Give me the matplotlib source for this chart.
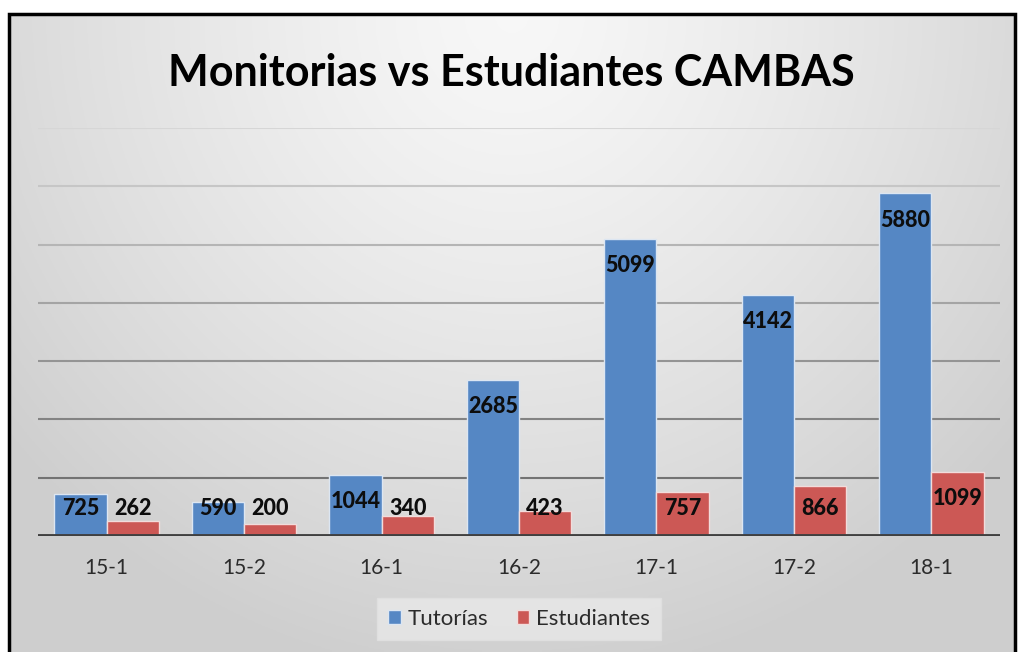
import numpy as np
import matplotlib
matplotlib.use('Agg')
import matplotlib.pyplot as plt
from matplotlib.patches import Rectangle, Patch

# datos
periodos = ['15-1', '15-2', '16-1', '16-2', '17-1', '17-2', '18-1']
tutorias = [725, 590, 1044, 2685, 5099, 4142, 5880]
estudiantes = [262, 200, 340, 423, 757, 866, 1099]

AZUL = '#5587c4'
ROJO = '#cc5855'
FUENTE = ['Lato', 'DejaVu Sans']

W, H = 1018, 652
fig = plt.figure(figsize=(W / 100, H / 100), dpi=100)
fig.patch.set_facecolor('white')

# fondo con degradado dentro del marco
x0, y0, x1, y1 = 9, 0, 1015, 638   # pixeles desde abajo
bg = fig.add_axes([x0 / W, y0 / H, (x1 - x0) / W, (y1 - y0) / H], zorder=0)
yy, xx = np.mgrid[0:1:200j, 0:1:400j]
d = np.sqrt(((xx - 0.5) / 0.65) ** 2 + (yy / 1.05) ** 2)
val = 0.97 - 0.16 * np.clip(d, 0, 1) ** 1.3
bg.imshow(np.dstack([val, val, val]), aspect='auto', extent=[0, 1, 0, 1])
bg.set_axis_off()
fig.patches.append(Rectangle((x0 / W, -0.05), (x1 - x0) / W, (y1 / H) + 0.05,
                             transform=fig.transFigure, fill=False,
                             edgecolor='black', lw=2.5, zorder=5))

# area del grafico
ax = fig.add_axes([38 / W, 116 / H, 962 / W, 408 / H], zorder=1)
ax.patch.set_alpha(0)
x = np.arange(len(periodos))
ancho = 0.38

ax.set_xlim(-0.5, len(periodos) - 0.5)
ax.set_ylim(0, 7000)

# lineas de cuadricula, mas oscuras hacia abajo
niveles = np.arange(1000, 7001, 1000)
grises = np.linspace(0.45, 0.84, len(niveles))
for nivel, g in zip(niveles, grises):
    ax.axhline(nivel, color=(g, g, g), lw=1.5, zorder=1)

ax.bar(x - ancho / 2, tutorias, ancho, color=AZUL, edgecolor='#dce6f2', lw=1, zorder=2)
ax.bar(x + ancho / 2, estudiantes, ancho, color=ROJO, edgecolor='#f2dcdb', lw=1, zorder=2)
ax.axhline(0, color='#404040', lw=3.5, zorder=3)

def etiqueta(xi, v):
    yl = max(v - 460, 470)
    ax.text(xi, yl, str(v), ha='center', va='center', fontsize=15.5,
            fontweight='black', color='#0d0d0d', family=FUENTE, zorder=4)

for i in range(len(periodos)):
    etiqueta(x[i] - ancho / 2, tutorias[i])
    etiqueta(x[i] + ancho / 2, estudiantes[i])

ax.set_xticks(x)
ax.set_xticklabels(periodos, fontsize=15, color='#2b2b2b', family=FUENTE)
ax.tick_params(axis='x', length=0, pad=16)
ax.set_yticks([])
for s in ax.spines.values():
    s.set_visible(False)

fig.text(511 / W, 1 - 73 / H, 'Monitorias vs Estudiantes CAMBAS', ha='center', va='center',
         fontsize=31, fontweight='bold', color='black', family=FUENTE)

handles = [Patch(facecolor=AZUL, edgecolor='#dce6f2'), Patch(facecolor=ROJO, edgecolor='#f2dcdb')]
leg = fig.legend(handles, ['Tutorías', 'Estudiantes'], loc='center',
                 bbox_to_anchor=(519 / W, 1 - 619 / H), ncol=2, frameon=True,
                 prop={'family': FUENTE, 'size': 16}, handlelength=0.55, handleheight=0.55,
                 handletextpad=0.3, columnspacing=1.3, borderpad=0.5, fancybox=False)
leg.get_frame().set_facecolor('#e6e6e6')
leg.get_frame().set_edgecolor('#e0e0e0')
leg.get_frame().set_alpha(0.9)
for t in leg.get_texts():
    t.set_color('#2b2b2b')

fig.savefig('out.png', dpi=100)
